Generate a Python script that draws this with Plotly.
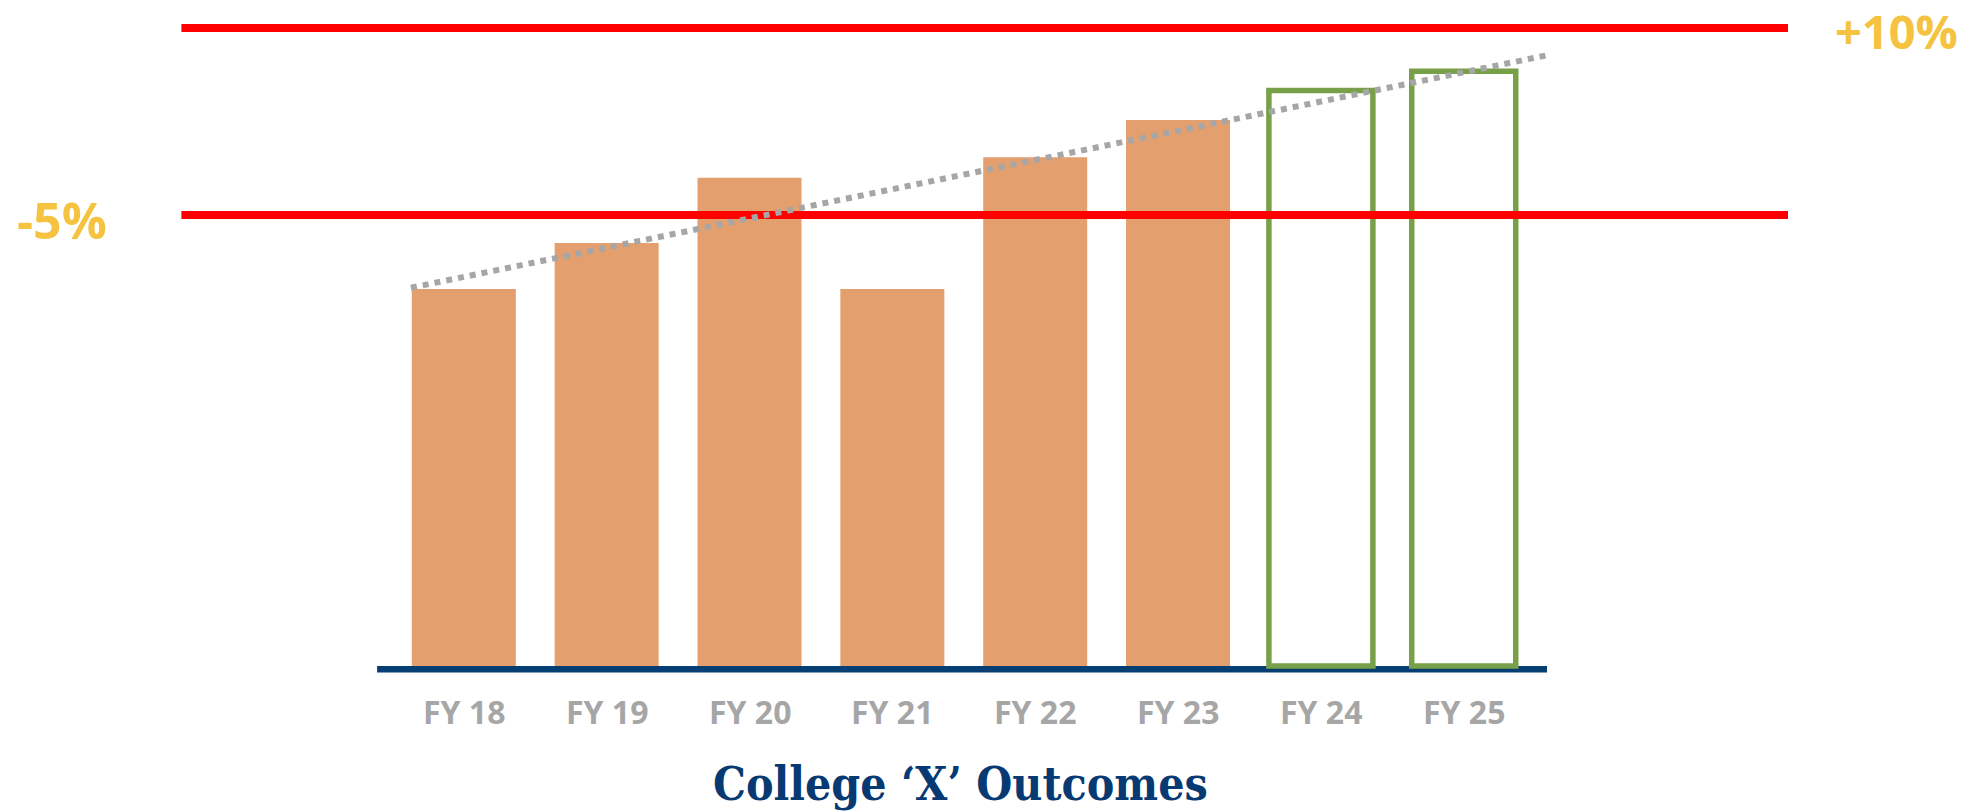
import plotly.graph_objects as go

# ---- data ----
categories = ["FY 18", "FY 19", "FY 20", "FY 21", "FY 22", "FY 23", "FY 24", "FY 25"]
actual_values = [56.6, 63.5, 73.3, 56.6, 76.4, 82.0, None, None]
projected_values = [None, None, None, None, None, None, 86.4, 89.3]
threshold_values = [95.8, 67.7]
threshold_labels = ["+10%", "-5%"]
trend_values = [56.8, 91.7]
title_text = "College ‘X’ Outcomes"

# ---- styling / layout constants ----
W, H = 1977, 812
BAR_COLOR = "#E49F6E"
PROJ_COLOR = "#78A049"
RED = "#FF0000"
GOLD = "#F5C33F"
NAVY = "#053E73"
GRAY = "#A6A6A6"
TITLE_COLOR = "#073A72"

X_RANGE = [-3.2468, 10.593]
Y_RANGE = [-21.92, 100]
BAR_WIDTH = 0.728
TREND_X = [-0.370, 7.582]
THRESH_X = [-1.977, 9.270]
BASE_X = [-0.607, 7.583]
LABEL_Y = -6.86

xs = list(range(len(categories)))

fig = go.Figure()

# solid bars for actual years
fig.add_trace(go.Bar(
    x=xs, y=actual_values, width=BAR_WIDTH,
    marker=dict(color=BAR_COLOR, line=dict(width=0)),
    showlegend=False, hoverinfo="skip",
))

# outlined bars for projected years
fig.add_trace(go.Bar(
    x=xs, y=projected_values, width=BAR_WIDTH,
    marker=dict(color="rgba(255,255,255,0)", line=dict(color=PROJ_COLOR, width=5.5)),
    showlegend=False, hoverinfo="skip",
))

# threshold lines
for val in threshold_values:
    fig.add_trace(go.Scatter(
        x=THRESH_X, y=[val, val], mode="lines",
        line=dict(color=RED, width=8),
        showlegend=False, hoverinfo="skip",
    ))

# dotted trend line
fig.add_trace(go.Scatter(
    x=TREND_X, y=trend_values, mode="lines",
    line=dict(color=GRAY, width=6, dash="6px,6px"),
    showlegend=False, hoverinfo="skip",
))

# baseline under the bars
fig.add_shape(
    type="line", xref="x", yref="y",
    x0=BASE_X[0], x1=BASE_X[1], y0=-0.5, y1=-0.5,
    line=dict(color=NAVY, width=6.5), layer="below",
)

annotations = []
for i, cat in zip(xs, categories):
    annotations.append(dict(
        x=i, y=LABEL_Y, xref="x", yref="y", text=cat, showarrow=False,
        xanchor="center", yanchor="middle",
        font=dict(family="Open Sans", size=32, color=GRAY, weight="bold"),
    ))

# threshold captions
annotations.append(dict(
    x=1896 / W, y=threshold_values[0], xref="paper", yref="y", text=threshold_labels[0],
    showarrow=False, xanchor="center", yanchor="middle", yshift=-3,
    font=dict(family="Open Sans", size=47, color=GOLD, weight="bold"),
))
annotations.append(dict(
    x=0.0316, y=threshold_values[1], xref="paper", yref="y", text=threshold_labels[1],
    showarrow=False, xanchor="center", yanchor="middle", yshift=-5,
    font=dict(family="Open Sans", size=50, color=GOLD, weight="bold"),
))

# chart title
annotations.append(dict(
    x=960 / W, y=1 - 784 / H, xref="paper", yref="paper", text=title_text,
    showarrow=False, xanchor="center", yanchor="middle",
    font=dict(family="DejaVu Serif Condensed, DejaVu Serif", size=46,
              color=TITLE_COLOR, weight="bold"),
))

fig.update_layout(
    width=W, height=H,
    margin=dict(l=0, r=0, t=0, b=0),
    paper_bgcolor="white", plot_bgcolor="white",
    barmode="overlay",
    xaxis=dict(range=X_RANGE, visible=False, fixedrange=True),
    yaxis=dict(range=Y_RANGE, visible=False, fixedrange=True),
    annotations=annotations,
)

fig.write_html("out.html")
